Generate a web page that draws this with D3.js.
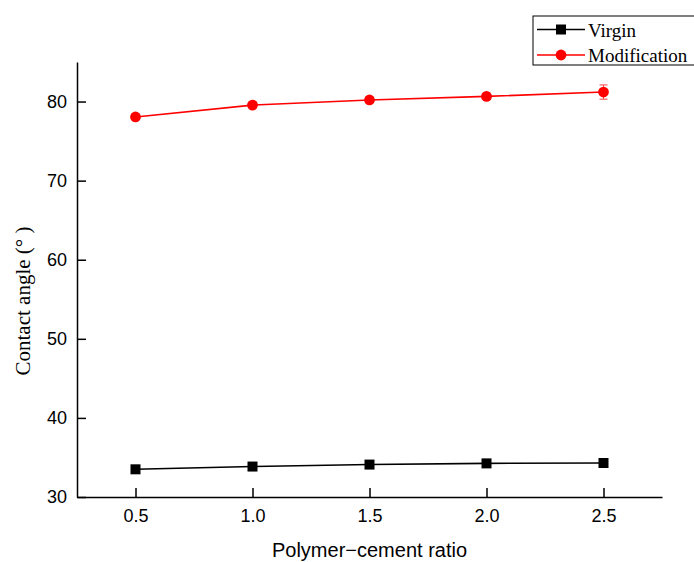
<!DOCTYPE html>
<html>
<head>
<meta charset="utf-8">
<script src="https://cdn.jsdelivr.net/npm/d3@7"></script>
<style>
  body { margin: 0; background: #fff; }
  .axis text { font-family: "Liberation Sans", Arial, sans-serif; font-size: 18px; fill: #000; }
  .axis path, .axis line { stroke: #000; stroke-width: 1.5; }
</style>
</head>
<body>
<div id="chart"></div>
<script>
// data
var ratios = [0.5, 1.0, 1.5, 2.0, 2.5];
var virgin = [33.5, 33.85, 34.1, 34.25, 34.3];
var modification = [78.05, 79.55, 80.2, 80.65, 81.2];
var modificationErr = [0.15, 0.2, 0.2, 0.2, 0.9];
var xTicks = [0.5, 1.0, 1.5, 2.0, 2.5];
var yTicks = [30, 40, 50, 60, 70, 80];

var W = 694, H = 562;
var margin = {top: 62, right: 32, bottom: 65, left: 77};
var width = W - margin.left - margin.right;
var height = H - margin.top - margin.bottom;

var svg = d3.select("#chart").append("svg").attr("width", W).attr("height", H);
var g = svg.append("g").attr("transform", "translate(" + margin.left + "," + margin.top + ")");

var x = d3.scaleLinear().domain([0.25, 2.75]).range([0, width]);
var y = d3.scaleLinear().domain([30, 85]).range([height, 0]);

// axes, ticks pointing inward
g.append("g")
    .attr("class", "axis")
    .attr("transform", "translate(0," + height + ")")
    .call(d3.axisBottom(x).tickValues(xTicks).tickFormat(d3.format(".1f")).tickSize(-9).tickSizeOuter(0).tickPadding(12));

g.append("g")
    .attr("class", "axis")
    .call(d3.axisLeft(y).tickValues(yTicks).tickSize(-9).tickSizeOuter(0).tickPadding(10));

// axis titles
svg.append("text")
    .attr("x", margin.left + x(1.5))
    .attr("y", 557)
    .attr("text-anchor", "middle")
    .style("font-family", "Liberation Sans, Arial, sans-serif")
    .style("font-size", "20px")
    .text("Polymer\u2212cement ratio");

svg.append("text")
    .attr("transform", "translate(30,301) rotate(-90)")
    .attr("text-anchor", "middle")
    .style("font-family", "Liberation Serif, Times New Roman, serif")
    .style("font-size", "21px")
    .text("Contact angle (\u00b0 )");

var line = d3.line()
    .x(function (d) { return x(d[0]); })
    .y(function (d) { return y(d[1]); });

var vData = ratios.map(function (r, i) { return [r, virgin[i]]; });
var mData = ratios.map(function (r, i) { return [r, modification[i], modificationErr[i]]; });

// virgin series
g.append("path").datum(vData)
    .attr("d", line).attr("fill", "none").attr("stroke", "#000").attr("stroke-width", 1.6);
g.selectAll(".sq").data(vData).enter().append("rect")
    .attr("class", "sq")
    .attr("x", function (d) { return x(d[0]) - 5; })
    .attr("y", function (d) { return y(d[1]) - 5; })
    .attr("width", 10).attr("height", 10)
    .attr("fill", "#000");

// modification series with error bars
g.selectAll(".err").data(mData).enter().append("path")
    .attr("class", "err")
    .attr("d", function (d) {
        var cx = x(d[0]), y1 = y(d[1] + d[2]), y2 = y(d[1] - d[2]);
        return "M" + (cx - 4) + "," + y1 + "H" + (cx + 4) + "M" + cx + "," + y1 + "V" + y2 + "M" + (cx - 4) + "," + y2 + "H" + (cx + 4);
    })
    .attr("stroke", "#f44").attr("stroke-width", 1).attr("fill", "none");
g.append("path").datum(mData)
    .attr("d", line).attr("fill", "none").attr("stroke", "#f00").attr("stroke-width", 1.6);
g.selectAll(".dot").data(mData).enter().append("circle")
    .attr("class", "dot")
    .attr("cx", function (d) { return x(d[0]); })
    .attr("cy", function (d) { return y(d[1]); })
    .attr("r", 5.4)
    .attr("fill", "#f00");

// legend
var leg = svg.append("g").attr("transform", "translate(533,16)");
leg.append("rect").attr("width", 170).attr("height", 49)
    .attr("fill", "#fff").attr("stroke", "#000").attr("stroke-width", 1);
var items = [
    {name: "Virgin", color: "#000", shape: "square"},
    {name: "Modification", color: "#f00", shape: "circle"}
];
items.forEach(function (it, i) {
    var cy = 13.5 + i * 25.5;
    leg.append("line").attr("x1", 4).attr("x2", 52).attr("y1", cy).attr("y2", cy)
        .attr("stroke", it.color).attr("stroke-width", 1.6);
    if (it.shape === "square") {
        leg.append("rect").attr("x", 23).attr("y", cy - 5).attr("width", 10).attr("height", 10).attr("fill", it.color);
    } else {
        leg.append("circle").attr("cx", 28).attr("cy", cy).attr("r", 5.4).attr("fill", it.color);
    }
    leg.append("text").attr("x", 55).attr("y", cy + 7)
        .style("font-family", "Liberation Serif, Times New Roman, serif")
        .style("font-size", "19px")
        .text(it.name);
});
</script>
</body>
</html>
